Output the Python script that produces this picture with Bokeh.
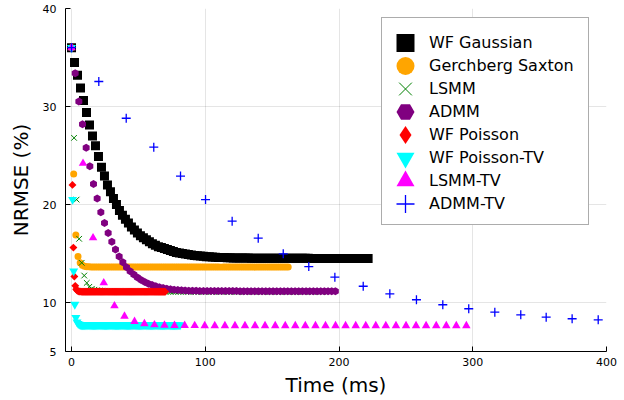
import numpy as np
from bokeh.plotting import figure
from bokeh.models import Range1d, FixedTicker, Legend, LegendItem
from bokeh.embed import file_html
from bokeh.resources import INLINE

# ---- data ----
x_ticks = [0, 100, 200, 300, 400]
y_ticks = [5, 10, 20, 30, 40]

# time per iteration (ms) for the dense series
wf_gauss_dt = 2.24
gs_dt = 1.62
lsmm_dt = 1.9
admm_dt = 2.74
wfp_dt = 0.7
wfptv_dt = 0.82

wf_gauss_y = [36.0, 34.5, 33.2, 31.9, 30.6, 29.4, 28.1, 27.0, 26.0,
              24.9, 23.8, 22.9, 22.0, 21.3, 20.6, 20.0, 19.4, 18.9, 18.5, 18.1, 17.7,
              17.4, 17.1, 16.8, 16.6, 16.4, 16.2, 16.0, 15.85, 15.7, 15.6, 15.5, 15.4,
              15.3, 15.2, 15.1, 15.05, 15.0, 14.95, 14.9, 14.85, 14.8, 14.77, 14.74,
              14.71, 14.68, 14.66, 14.64, 14.62, 14.6,
              14.59, 14.58, 14.57, 14.56, 14.55, 14.55, 14.54, 14.54, 14.53, 14.53,
              14.52, 14.52, 14.52, 14.52, 14.52, 14.52, 14.52, 14.52, 14.52, 14.52,
              14.51, 14.51, 14.51, 14.51, 14.51, 14.51, 14.51, 14.51, 14.51, 14.51,
              14.5, 14.5, 14.5, 14.5, 14.5, 14.5, 14.5, 14.5, 14.5, 14.5,
              14.5, 14.5, 14.5, 14.5, 14.5, 14.5, 14.5, 14.5, 14.5, 14.5]

gs_y = [36.0, 23.1, 16.9, 14.7, 14.05, 13.8, 13.7, 13.66, 13.64,
        13.63, 13.63, 13.63, 13.63, 13.63, 13.63, 13.63, 13.63, 13.63, 13.63,
        13.63, 13.63, 13.63, 13.63, 13.63, 13.63, 13.63, 13.63, 13.63, 13.63,
        13.63, 13.63, 13.63, 13.63, 13.63, 13.63, 13.63, 13.63, 13.63, 13.63,
        13.62, 13.62, 13.62, 13.62, 13.62, 13.62, 13.62, 13.62, 13.62, 13.62,
        13.62, 13.62, 13.62, 13.62, 13.62, 13.62, 13.62, 13.62, 13.62, 13.62,
        13.62, 13.62, 13.62, 13.62, 13.62, 13.62, 13.62, 13.62, 13.62, 13.62,
        13.61, 13.61, 13.61, 13.61, 13.61, 13.61, 13.61, 13.61, 13.61, 13.61,
        13.61, 13.61, 13.61, 13.61, 13.61, 13.61, 13.61, 13.61, 13.61, 13.61,
        13.61, 13.61, 13.61, 13.61, 13.61, 13.61, 13.61, 13.61, 13.61, 13.61,
        13.61, 13.61]

lsmm_y = [36.0, 26.8, 20.5, 16.5, 14.05, 12.75, 12.0, 11.6, 11.4, 11.3, 11.25,
          11.22, 11.2, 11.18, 11.16, 11.14, 11.12,
          11.1, 11.1, 11.1, 11.1, 11.1, 11.1, 11.1, 11.1, 11.1, 11.1,
          11.1, 11.1, 11.1, 11.1, 11.1, 11.1, 11.1, 11.1, 11.1, 11.1,
          11.1, 11.1, 11.1, 11.1, 11.1, 11.1, 11.1, 11.1, 11.1, 11.1,
          11.1, 11.1, 11.1, 11.1, 11.1, 11.1, 11.1, 11.1, 11.1, 11.1,
          11.1, 11.1, 11.1, 11.1, 11.1, 11.1, 11.1, 11.1, 11.1, 11.1,
          11.1, 11.1, 11.1, 11.1, 11.1, 11.1, 11.1, 11.1, 11.1, 11.1,
          11.1, 11.1, 11.1, 11.1, 11.1, 11.1, 11.1, 11.1, 11.1, 11.1,
          11.1, 11.1, 11.1, 11.1, 11.1, 11.1, 11.1, 11.1, 11.1, 11.1,
          11.1, 11.1, 11.1]

admm_y = [36.0, 33.4, 30.5, 28.2, 25.8, 23.9, 22.1, 20.6, 19.2, 18.1,
          17.1, 16.2, 15.4, 14.7, 14.1, 13.6, 13.2, 12.85, 12.55, 12.3,
          12.1, 11.92, 11.78, 11.65, 11.55, 11.47, 11.4, 11.35, 11.31, 11.28,
          11.25, 11.23, 11.21, 11.2, 11.19, 11.18,
          11.17, 11.17, 11.17, 11.17, 11.17, 11.17, 11.17, 11.17, 11.17, 11.17,
          11.16, 11.16, 11.16, 11.16, 11.16, 11.16, 11.16, 11.16, 11.16, 11.16,
          11.15, 11.15, 11.15, 11.15, 11.15, 11.15, 11.15, 11.15, 11.15, 11.15,
          11.15, 11.15, 11.15, 11.15, 11.15, 11.15, 11.15]

wfp_y = [36.0, 22.0, 15.6, 12.65, 11.7, 11.35, 11.22, 11.16, 11.13, 11.12, 11.11,
         11.1, 11.1, 11.1, 11.1, 11.1, 11.1, 11.1, 11.1, 11.1, 11.1,
         11.1, 11.1, 11.1, 11.1, 11.1, 11.1, 11.1, 11.1, 11.1, 11.1,
         11.1, 11.1, 11.1, 11.1, 11.1, 11.1, 11.1, 11.1, 11.1, 11.1,
         11.1, 11.1, 11.1, 11.1, 11.1, 11.1, 11.1, 11.1, 11.1, 11.1,
         11.1, 11.1, 11.1, 11.1, 11.1, 11.1, 11.1, 11.1, 11.1, 11.1,
         11.1, 11.1, 11.1, 11.1, 11.1, 11.1, 11.1, 11.1, 11.1, 11.1,
         11.1, 11.1, 11.1, 11.1, 11.1, 11.1, 11.1, 11.1, 11.1, 11.1,
         11.1, 11.1, 11.1, 11.1, 11.1, 11.1, 11.1, 11.1, 11.1, 11.1,
         11.1, 11.1, 11.1, 11.1, 11.1, 11.1, 11.1, 11.1, 11.1, 11.1]

wfptv_y = [36.0, 20.5, 13.2, 9.8, 8.45, 8.0, 7.85, 7.77, 7.73, 7.71, 7.7,
           7.69, 7.69, 7.69, 7.69, 7.69, 7.69, 7.69, 7.69, 7.69,
           7.69, 7.69, 7.69, 7.69, 7.69, 7.69, 7.69, 7.69, 7.69, 7.69,
           7.69, 7.69, 7.69, 7.69, 7.69, 7.69, 7.69, 7.69, 7.69, 7.69,
           7.69, 7.69, 7.69, 7.69, 7.69, 7.69, 7.69, 7.69, 7.69, 7.69,
           7.69, 7.69, 7.69, 7.69, 7.69, 7.69, 7.69, 7.69, 7.69, 7.69,
           7.69, 7.69, 7.69, 7.69, 7.69, 7.69, 7.69, 7.69, 7.69, 7.69,
           7.69, 7.69, 7.69, 7.69, 7.69, 7.69, 7.69, 7.69, 7.69, 7.69,
           7.69, 7.69, 7.69, 7.69, 7.69, 7.69, 7.69, 7.69, 7.69, 7.69,
           7.69, 7.69, 7.69, 7.69, 7.69, 7.69, 7.69, 7.69, 7.69, 7.69]

lsmmtv_x = [0, 8.6, 16.1, 24.1, 32.1, 39.6, 47.1, 54.5, 62.0,
            69.5, 77.0, 84.6, 92.1, 99.6, 107.1, 114.7, 122.2, 129.7, 137.2,
            144.7, 152.3, 159.8, 167.3, 174.8, 182.4, 189.9, 197.4, 204.9, 212.5,
            220.0, 227.5, 235.0, 242.6, 250.1, 257.6, 265.1, 272.7, 280.2, 287.7, 295.2]
lsmmtv_y = [36.0, 24.2, 16.6, 12.0, 9.66, 8.6, 8.06, 7.83, 7.72,
            7.68, 7.66, 7.65, 7.64, 7.63, 7.63, 7.63, 7.63, 7.63, 7.63,
            7.63, 7.63, 7.63, 7.63, 7.63, 7.63, 7.63, 7.63, 7.63, 7.63,
            7.63, 7.63, 7.63, 7.63, 7.63, 7.63, 7.63, 7.63, 7.63, 7.63, 7.63]

admmtv_x = [0, 20.4, 40.9, 61.5, 81.5, 100.2, 120.1, 139.6, 158.3, 177.4, 196.9,
            218.1, 238.0, 257.9, 277.6, 297.0, 316.5, 335.9, 354.9, 374.3, 393.8]
admmtv_y = [36.0, 32.55, 28.8, 25.85, 22.9, 20.5, 18.3, 16.56, 14.97, 13.67, 12.58,
            11.66, 10.89, 10.28, 9.77, 9.36, 9.01, 8.74, 8.5, 8.34, 8.23]

labels = ["WF Gaussian", "Gerchberg Saxton", "LSMM", "ADMM", "WF Poisson",
          "WF Poisson-TV", "LSMM-TV", "ADMM-TV"]

FONT = "DejaVu Sans"

p = figure(width=624, height=400, output_backend="svg", toolbar_location=None,
           x_range=Range1d(-4.5, 400), y_range=Range1d(5, 40),
           min_border_left=65, min_border_right=18, min_border_top=8, min_border_bottom=49)
p.outline_line_color = None
p.background_fill_color = "white"


def xs(y, dt):
    return np.arange(len(y)) * dt


r1 = p.scatter(xs(wf_gauss_y, wf_gauss_dt), wf_gauss_y, marker="square", size=9,
               fill_color="black", line_color=None)
r2 = p.scatter(xs(gs_y, gs_dt), gs_y, marker="circle", size=7,
               fill_color="orange", line_color=None)
r3 = p.scatter(xs(lsmm_y, lsmm_dt), lsmm_y, marker="x", size=8,
               line_color="green", line_width=1)
r4 = p.scatter(xs(admm_y, admm_dt), admm_y, marker="hex", size=8, angle=np.pi / 2,
               fill_color="purple", line_color=None)
r5 = p.scatter(xs(wfp_y, wfp_dt), wfp_y, marker="square", size=5.6, angle=np.pi / 4,
               fill_color="red", line_color=None)
r6 = p.scatter(xs(wfptv_y, wfptv_dt), wfptv_y, marker="inverted_triangle", size=9,
               fill_color="cyan", line_color=None)
r7 = p.scatter(lsmmtv_x, lsmmtv_y, marker="triangle", size=8.5,
               fill_color="magenta", line_color=None)
r8 = p.scatter(admmtv_x, admmtv_y, marker="cross", size=9,
               line_color="blue", line_width=1.3)

# legend-only glyphs (no visible data) so the legend shows GR-like shapes
l4 = p.scatter([np.nan], [np.nan], marker="hex", fill_color="purple", line_color=None)
l5 = p.scatter([np.nan], [np.nan], marker="diamond", fill_color="red", line_color=None)
l_box = p.scatter([np.nan], [np.nan], marker="square", fill_alpha=0, line_alpha=0)

# legend frame (white box with grey border)
box = Legend(items=[LegendItem(label=" ", renderers=[l_box])], location=(316, 126),
             padding=0, margin=0, glyph_width=206, glyph_height=206, label_standoff=0,
             label_width=0, label_text_font_size="1px",
             border_line_color="#5a5a5a", border_line_width=1,
             background_fill_color="white", background_fill_alpha=1.0)
p.add_layout(box)

legend_renderers = [r1, r2, r3, l4, l5, r6, r7, r8]
for k, (lab, rr) in enumerate(zip(labels, legend_renderers)):
    lg = Legend(items=[LegendItem(label=lab, renderers=[rr])], location=(316, 286 - 23 * k),
                padding=0, margin=0, glyph_height=45, glyph_width=48, label_standoff=0,
                label_width=150, label_text_font=FONT, label_text_font_size="16px",
                label_text_color="black", border_line_color=None,
                background_fill_alpha=0.0)
    p.add_layout(lg)

for ax in (p.xaxis, p.yaxis):
    ax.axis_line_color = "black"
    ax.axis_line_width = 1
    ax.major_tick_line_color = "black"
    ax.major_tick_in = 5
    ax.major_tick_out = 0
    ax.minor_tick_line_color = None
    ax.major_label_text_font = FONT
    ax.major_label_text_font_size = "11px"
    ax.major_label_text_color = "black"
    ax.axis_label_text_font = FONT
    ax.axis_label_text_font_size = "20px"
    ax.axis_label_text_font_style = "normal"
    ax.axis_label_text_color = "black"

p.xaxis.ticker = FixedTicker(ticks=x_ticks)
p.yaxis.ticker = FixedTicker(ticks=y_ticks)
p.xaxis.axis_label = "Time (ms)"
p.yaxis.axis_label = "NRMSE (%)"
p.xaxis.major_label_standoff = 6
p.xaxis.axis_label_standoff = 4
p.yaxis.major_label_standoff = 9
p.yaxis.axis_label_standoff = 7

p.xgrid.ticker = FixedTicker(ticks=x_ticks)
p.ygrid.ticker = FixedTicker(ticks=[10, 20, 30, 40])
for g in (p.xgrid, p.ygrid):
    g.grid_line_color = "black"
    g.grid_line_alpha = 0.1
    g.grid_line_width = 1

open("out.html", "w").write(file_html(p, INLINE))
